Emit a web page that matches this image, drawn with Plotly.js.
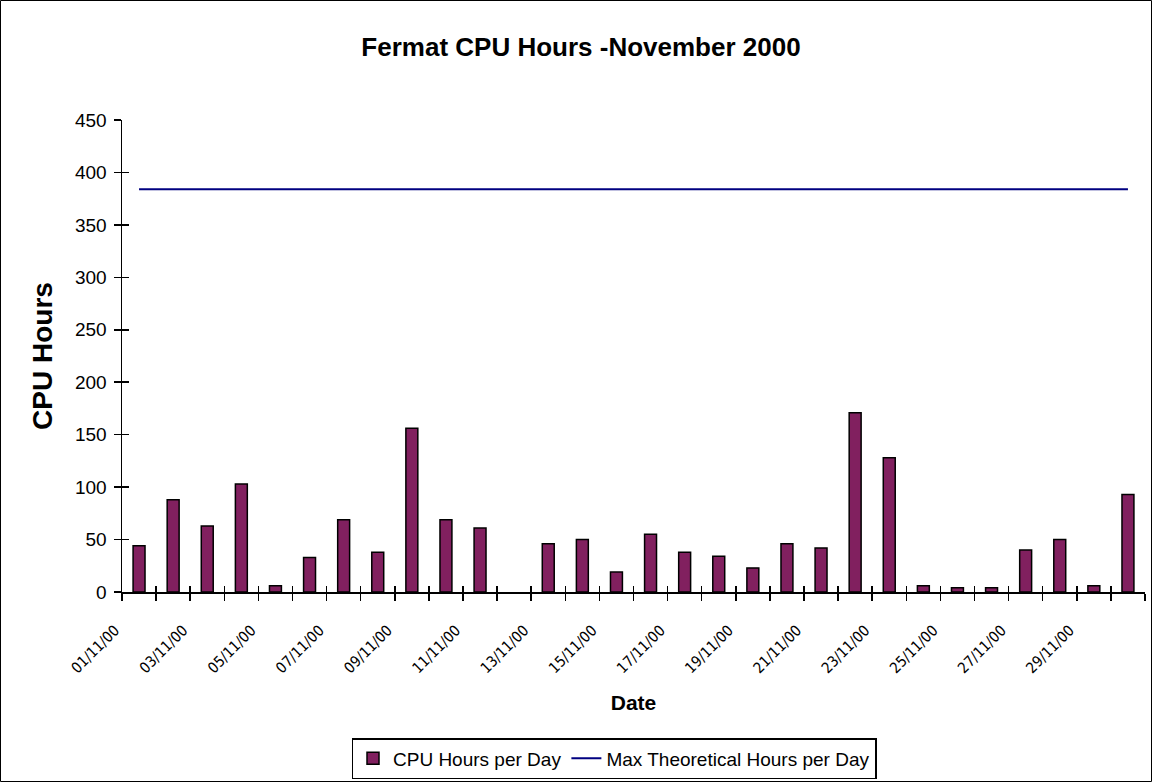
<!DOCTYPE html>
<html>
<head>
<meta charset="utf-8">
<script src="https://cdn.plot.ly/plotly-3.0.1.min.js"></script>
<style>
html,body{margin:0;padding:0;background:#fff;}
#chart{width:1152px;height:782px;}
</style>
</head>
<body>
<div id="chart"></div>
<script>
const categories = ["01/11/00","02/11/00","03/11/00","04/11/00","05/11/00","06/11/00","07/11/00","08/11/00","09/11/00","10/11/00",
  "11/11/00","12/11/00","13/11/00","14/11/00","15/11/00","16/11/00","17/11/00","18/11/00","19/11/00","20/11/00",
  "21/11/00","22/11/00","23/11/00","24/11/00","25/11/00","26/11/00","27/11/00","28/11/00","29/11/00","30/11/00"];
const cpuHours = [44, 88, 63, 103, 6, 33, 69, 38, 156, 69,
  61, 0, 46, 50, 19, 55, 38, 34, 23, 46,
  42, 171, 128, 6, 4, 4, 40, 50, 6, 93];
const maxHours = [384,384,384,384,384,384,384,384,384,384,
  384,384,384,384,384,384,384,384,384,384,
  384,384,384,384,384,384,384,384,384,384];
const tickLabels = categories.map((c, i) => (i % 2 === 0 ? c : ""));

const W = 1152, H = 782, L = 122, R = 7, T = 120, B = 190;
const pw = W - L - R, ph = H - T - B;
const FONT = "Liberation Sans, Arial, sans-serif";

const data = [
  {
    type: "bar", name: "CPU Hours per Day", x: categories, y: cpuHours,
    marker: {color: "#81205F", line: {color: "#000000", width: cpuHours.map(v => (v > 0 ? 1.5 : 0))}}
  },
  {
    type: "scatter", mode: "lines", name: "Max Theoretical Hours per Day",
    x: categories, y: maxHours, xaxis: "x2", yaxis: "y2",
    line: {color: "#000080", width: 2}
  }
];

const layout = {
  width: W, height: H,
  margin: {l: L, r: R, t: T, b: B, autoexpand: false},
  paper_bgcolor: "#ffffff", plot_bgcolor: "#ffffff",
  font: {family: FONT, color: "#000000"},
  showlegend: true,
  bargap: 0.65,
  title: {
    text: "<b>Fermat CPU Hours -November 2000</b>",
    font: {size: 26, family: FONT},
    x: 581 / W, xref: "container", xanchor: "center",
    y: 1 - 47 / H, yref: "container", yanchor: "middle"
  },
  xaxis: {
    type: "category", range: [-0.5, 29.5],
    tickmode: "array", tickvals: categories, ticktext: tickLabels,
    tickson: "boundaries", ticks: "outside", ticklen: 7, tickwidth: 1.5, tickcolor: "#000",
    tickangle: -45, ticklabelstandoff: 22, ticklabelshift: -24,
    tickfont: {size: 15, family: "DejaVu Sans Condensed, Liberation Sans Narrow, Liberation Sans, sans-serif"},
    showline: true, linecolor: "#000", linewidth: 1.5,
    showgrid: false, zeroline: false, automargin: false,
    title: {text: "<b>Date</b>", font: {size: 21}, standoff: 19}
  },
  xaxis2: {
    type: "category", range: [-0.5, 29.5], overlaying: "x", side: "bottom",
    tickson: "boundaries", ticks: "inside", ticklen: 6, tickwidth: 1.5, tickcolor: "#000",
    showticklabels: false, showline: false, showgrid: false, zeroline: false, automargin: false
  },
  yaxis: {
    range: [0, 450], dtick: 50, tick0: 0,
    ticks: "outside", ticklen: 7, tickwidth: 1.5, tickcolor: "#000",
    tickfont: {size: 19}, ticklabelstandoff: 3,
    showline: true, linecolor: "#000", linewidth: 1.5,
    showgrid: false, zeroline: false, automargin: false,
    title: {text: "<b>CPU Hours</b>", font: {size: 28}, standoff: 14}
  },
  yaxis2: {
    range: [0, 450], dtick: 50, tick0: 0, overlaying: "y", side: "left",
    ticks: "inside", ticklen: 7, tickwidth: 1.5, tickcolor: "#000",
    showticklabels: false, showline: false, showgrid: false, zeroline: false, automargin: false
  },
  legend: {
    orientation: "h", x: (614 - L) / pw, xanchor: "center",
    y: (T + ph - 738) / ph, yanchor: "top",
    bordercolor: "#000", borderwidth: 1.5,
    font: {size: 19}, bgcolor: "#ffffff", traceorder: "normal"
  },
  shapes: [
    {type: "rect", xref: "paper", yref: "paper",
     x0: (0.5 - L) / pw, x1: (W - 0.5 - L) / pw,
     y0: (T + ph - (H - 0.5)) / ph, y1: (T + ph - 0.5) / ph,
     line: {color: "#000", width: 1}, fillcolor: "rgba(0,0,0,0)", layer: "below"}
  ]
};

Plotly.newPlot("chart", data, layout, {displayModeBar: false, staticPlot: true});
</script>
</body>
</html>
